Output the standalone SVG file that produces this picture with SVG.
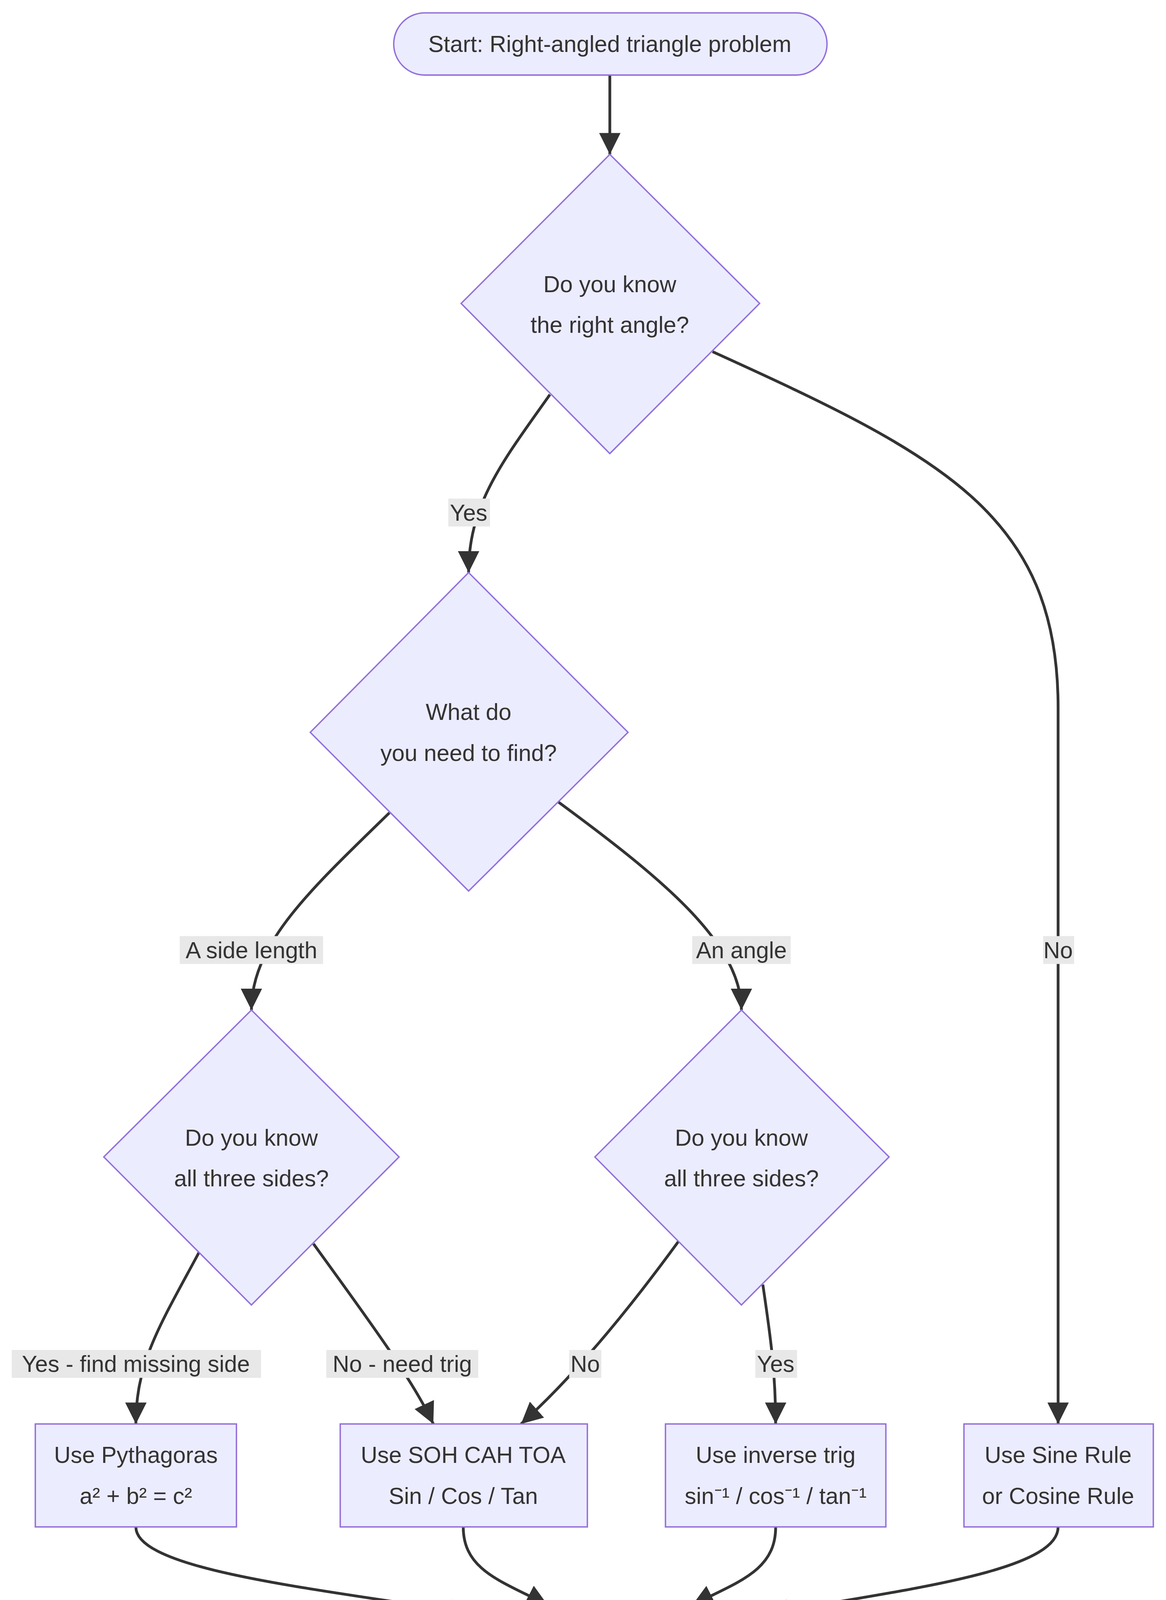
<svg xmlns="http://www.w3.org/2000/svg" width="2984" height="4296" viewBox="0 0 2984 4296">
<style>
.n{fill:#ECECFF;stroke:#9370DB;stroke-width:1.3}
.t{font-family:"Liberation Sans",Arial,sans-serif;font-size:21.5px;fill:#333;text-anchor:middle;dominant-baseline:central}
.e{fill:none;stroke:#333;stroke-width:2.6}
.lb{fill:#e8e8e8}
</style>
<defs>
<marker id="a" markerUnits="userSpaceOnUse" markerWidth="20" markerHeight="20" viewBox="0 0 10 10" refX="10" refY="5" orient="auto">
<path d="M0,0L10,5L0,10z" fill="#333"/>
</marker>
</defs>
<rect width="2984" height="4296" fill="#fff"/>
<g transform="scale(2.738,2.745)">
<g id="connectors">
<path class="e" marker-end="url(#a)" d="M570,70 L570,144"/>
<path class="e" marker-end="url(#a)" d="M514,368 C470,430 438,470 438,534"/>
<path class="e" marker-end="url(#a)" d="M666,328 C880,425 989,480 989,660 L989,1328"/>
<path class="e" marker-end="url(#a)" d="M364,758 C290,830 235,880 235,942"/>
<path class="e" marker-end="url(#a)" d="M522,748 C620,820 693,880 693,942"/>
<path class="e" marker-end="url(#a)" d="M186,1168 C150,1235 127,1270 127,1328"/>
<path class="e" marker-end="url(#a)" d="M293,1160 C340,1225 385,1285 405,1328"/>
<path class="e" marker-end="url(#a)" d="M634,1158 C585,1225 535,1285 487,1328"/>
<path class="e" marker-end="url(#a)" d="M713,1198 C720,1245 725,1280 725,1328"/>
<path class="e" marker-end="url(#a)" d="M127,1424 C127,1465 300,1482 441,1505"/>
<path class="e" marker-end="url(#a)" d="M433,1424 C433,1465 470,1475 512,1497"/>
<path class="e" marker-end="url(#a)" d="M725,1424 C725,1465 690,1475 647,1497"/>
<path class="e" marker-end="url(#a)" d="M989,1424 C989,1465 850,1482 717,1505"/>
<rect class="lb" x="419" y="465" width="39" height="26"/><text class="t" x="438" y="478">Yes</text>
<rect class="lb" x="975" y="873" width="29" height="26"/><text class="t" x="989" y="886">No</text>
<rect class="lb" x="168" y="873" width="134" height="26"/><text class="t" x="235" y="886">A side length</text>
<rect class="lb" x="647" y="873" width="92" height="26"/><text class="t" x="693" y="886">An angle</text>
<rect class="lb" x="11" y="1259" width="233" height="26"/><text class="t" x="127" y="1272">Yes - find missing side</text>
<rect class="lb" x="305" y="1259" width="142" height="26"/><text class="t" x="376" y="1272">No - need trig</text>
<rect class="lb" x="532" y="1259" width="30" height="26"/><text class="t" x="547" y="1272">No</text>
<rect class="lb" x="706" y="1259" width="39" height="26"/><text class="t" x="725" y="1272">Yes</text>
</g>
<g id="start"><rect class="n" x="368" y="12" width="405" height="58" rx="29"/><text class="t" x="570" y="41">Start: Right-angled triangle problem</text></g>
<g id="d1"><path class="n" d="M570,144L710,283L570,423L431,283z"/><text class="t" x="570" y="265">Do you know</text><text class="t" x="570" y="303">the right angle?</text></g>
<g id="d2"><path class="n" d="M438,534L587,683L438,831L290,683z"/><text class="t" x="438" y="664">What do</text><text class="t" x="438" y="702">you need to find?</text></g>
<g id="d3"><path class="n" d="M235,942L373,1079L235,1217L97,1079z"/><text class="t" x="235" y="1061">Do you know</text><text class="t" x="235" y="1099">all three sides?</text></g>
<g id="d4"><path class="n" d="M693,942L831,1079L693,1217L556,1079z"/><text class="t" x="693" y="1061">Do you know</text><text class="t" x="693" y="1099">all three sides?</text></g>
<g id="pyth"><rect class="n" x="33" y="1328" width="188" height="96"/><text class="t" x="127" y="1357">Use Pythagoras</text><text class="t" x="127" y="1395">a² + b² = c²</text></g>
<g id="soh"><rect class="n" x="318" y="1328" width="231" height="96"/><text class="t" x="433" y="1357">Use SOH CAH TOA</text><text class="t" x="433" y="1395">Sin / Cos / Tan</text></g>
<g id="inv"><rect class="n" x="622" y="1328" width="206" height="96"/><text class="t" x="725" y="1357">Use inverse trig</text><text class="t" x="725" y="1395">sin⁻¹ / cos⁻¹ / tan⁻¹</text></g>
<g id="sine"><rect class="n" x="901" y="1328" width="177" height="96"/><text class="t" x="989" y="1357">Use Sine Rule</text><text class="t" x="989" y="1395">or Cosine Rule</text></g>
<g id="end"><rect class="n" x="441" y="1497" width="276" height="59" rx="29"/><text class="t" x="579" y="1527">Write answer with units</text></g>
</g>
</svg>
